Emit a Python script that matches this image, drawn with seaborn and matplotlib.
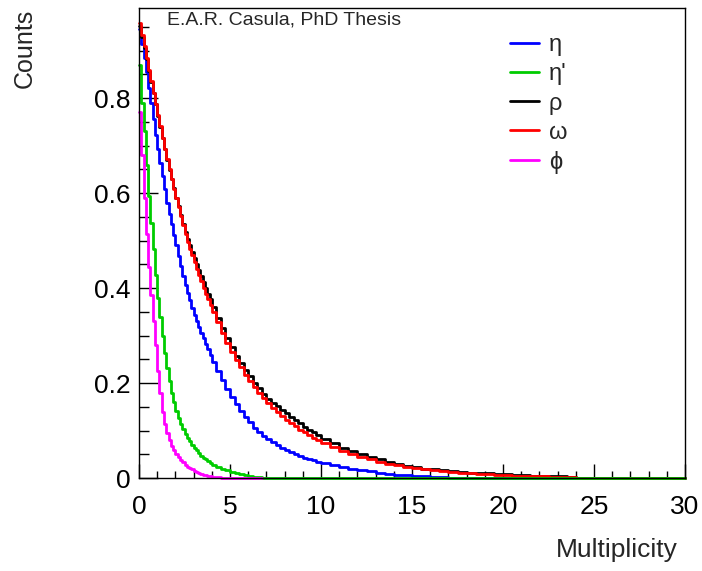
import numpy as np
import pandas as pd
import matplotlib
matplotlib.use("Agg")
import matplotlib.pyplot as plt
from matplotlib.ticker import MultipleLocator
from matplotlib.lines import Line2D
import seaborn as sns

# ---- data (bin contents) ----
# bin edges: 0.125 wide up to 4, 0.25 wide up to 10, 0.5 wide up to 30
edges = np.concatenate([np.arange(0, 4, 0.125),
                        np.arange(4, 10, 0.25),
                        np.arange(10, 30.001, 0.5)])

labels = ["η", "η'", "ρ", "ω", "ϕ"]
colors = {"η": "#0000ff", "η'": "#00cc00", "ρ": "#000000", "ω": "#ff0000", "ϕ": "#ff00ff"}

rho_a = [0.953, 0.929, 0.906, 0.882, 0.858, 0.834, 0.811, 0.787, 0.763, 0.740, 0.716, 0.693,
         0.670, 0.649, 0.629, 0.610, 0.590, 0.572, 0.554, 0.535, 0.518, 0.504, 0.490, 0.477,
         0.464, 0.451, 0.438, 0.425, 0.412, 0.400, 0.388, 0.376]
rho_b = [0.36, 0.337, 0.315, 0.295, 0.276, 0.258, 0.242, 0.228, 0.214, 0.201, 0.189, 0.177,
         0.167, 0.159, 0.151, 0.144, 0.136, 0.129, 0.122, 0.115, 0.108, 0.102, 0.096, 0.090]
rho_c = [0.082, 0.073, 0.064, 0.057, 0.050, 0.045, 0.039, 0.034, 0.030, 0.026, 0.023, 0.020,
         0.018, 0.016, 0.014, 0.013, 0.0115, 0.0105, 0.0095, 0.0085, 0.0075, 0.0065, 0.0058, 0.0052,
         0.0046, 0.004, 0.0033, 0.0025, 0, 0, 0, 0, 0, 0, 0, 0, 0, 0, 0, 0]

omega_a = [0.958, 0.933, 0.909, 0.884, 0.860, 0.836, 0.812, 0.788, 0.764, 0.741, 0.717, 0.694,
           0.671, 0.650, 0.629, 0.609, 0.589, 0.570, 0.551, 0.532, 0.514, 0.498, 0.483, 0.469,
           0.455, 0.441, 0.427, 0.414, 0.401, 0.388, 0.376, 0.364]
omega_b = [0.35, 0.328, 0.306, 0.285, 0.266, 0.249, 0.233, 0.218, 0.204, 0.191, 0.179, 0.168,
           0.157, 0.148, 0.139, 0.131, 0.123, 0.116, 0.109, 0.102, 0.096, 0.090, 0.084, 0.079]
omega_c = [0.074, 0.065, 0.057, 0.050, 0.044, 0.039, 0.034, 0.030, 0.027, 0.024, 0.021, 0.018,
           0.016, 0.014, 0.012, 0.011, 0.0095, 0.0085, 0.0075, 0.0065, 0.0058, 0.005, 0.0044, 0.0038,
           0.0032, 0.0026, 0.002, 0.0012, 0, 0, 0, 0, 0, 0, 0, 0, 0, 0, 0, 0]

eta_a = [0.945, 0.915, 0.885, 0.855, 0.822, 0.789, 0.756, 0.723, 0.692, 0.664, 0.636, 0.608,
         0.580, 0.557, 0.534, 0.511, 0.490, 0.468, 0.447, 0.426, 0.406, 0.390, 0.374, 0.358,
         0.344, 0.331, 0.319, 0.306, 0.294, 0.282, 0.271, 0.260]
eta_b = [0.245, 0.225, 0.206, 0.188, 0.171, 0.156, 0.142, 0.129, 0.117, 0.106, 0.097, 0.089,
         0.082, 0.075, 0.069, 0.063, 0.059, 0.055, 0.051, 0.047, 0.043, 0.040, 0.037, 0.034]
eta_c = [0.031, 0.027, 0.023, 0.020, 0.017, 0.014, 0.011, 0.009, 0.007, 0.0055, 0.0045, 0.0035,
         0.0025, 0.0018, 0, 0, 0, 0, 0, 0, 0, 0, 0, 0, 0, 0, 0, 0, 0, 0, 0, 0, 0, 0, 0, 0,
         0, 0, 0, 0]

etap_a = [0.870, 0.790, 0.730, 0.660, 0.595, 0.538, 0.482, 0.428, 0.380, 0.340, 0.300, 0.264,
          0.232, 0.204, 0.180, 0.160, 0.142, 0.127, 0.114, 0.103, 0.093, 0.085, 0.077, 0.070,
          0.063, 0.058, 0.052, 0.047, 0.043, 0.039, 0.035, 0.032]
etap_b = [0.028, 0.024, 0.020, 0.016, 0.013, 0.010, 0.0075, 0.0055, 0.004, 0.0028, 0.0018, 0.001,
          0, 0, 0, 0, 0, 0, 0, 0, 0, 0, 0, 0]
etap_c = [0] * 40

phi_a = [0.770, 0.680, 0.590, 0.515, 0.445, 0.385, 0.330, 0.280, 0.225, 0.180, 0.140, 0.113,
         0.095, 0.080, 0.068, 0.058, 0.050, 0.044, 0.038, 0.033, 0.028, 0.024, 0.021, 0.018,
         0.015, 0.013, 0.011, 0.009, 0.007, 0.0055, 0.0045, 0.0035]
phi_b = [0.0025, 0.0018, 0.001, 0.0005, 0, 0, 0, 0, 0, 0, 0]

series = {
    "η": eta_a + eta_b + eta_c,
    "ρ": rho_a + rho_b + rho_c,
    "ω": omega_a + omega_b + omega_c,
    "η'": etap_a + etap_b + etap_c,
    "ϕ": phi_a + phi_b,
}
draw_order = ["η", "ρ", "ω", "η'", "ϕ"]

rows = []
for name in draw_order:
    vals = series[name]
    n = len(vals)
    xs = np.append(edges[:n], edges[n])
    ys = np.append(vals, vals[-1])
    for x, y in zip(xs, ys):
        rows.append({"mult": x, "counts": y, "particle": name})
df = pd.DataFrame(rows)

# ---- plot ----
sns.set_style("white")
plt.rcParams["font.family"] = ["Liberation Sans", "DejaVu Sans"]

fig = plt.figure(figsize=(7.02, 5.71), dpi=100)
ax = fig.add_axes([139 / 702, 1 - 478 / 571, (685 - 139) / 702, (478 - 8) / 571])

sns.lineplot(data=df, x="mult", y="counts", hue="particle", hue_order=draw_order,
             palette=colors, estimator=None, sort=False, drawstyle="steps-post",
             linewidth=2.0, ax=ax, legend=False, clip_on=False)

ax.set_xlim(0, 30)
ax.set_ylim(0, 0.99)
ax.xaxis.set_minor_locator(MultipleLocator(1))
ax.yaxis.set_minor_locator(MultipleLocator(0.05))
ax.set_yticks([0, 0.2, 0.4, 0.6, 0.8])
ax.set_yticklabels(["0", "0.2", "0.4", "0.6", "0.8"])
ax.set_xticks([0, 5, 10, 15, 20, 25, 30])
ax.set_xticklabels(["0", "5", "10", "15", "20", "25", "30"])

ax.tick_params(axis="both", which="both", direction="in", colors="black", labelsize=19,
               bottom=True, left=True, top=False, right=False)
ax.tick_params(axis="y", which="major", length=13.5, width=1, pad=6)
ax.tick_params(axis="y", which="minor", length=7, width=1)
ax.tick_params(axis="x", which="major", length=10, width=1, pad=12)
ax.tick_params(axis="x", which="minor", length=5, width=1)
for sp in ax.spines.values():
    sp.set_color("black")
    sp.set_linewidth(1.0)

ax.set_xlabel("")
ax.set_ylabel("")
fig.text(678 / 702, 1 - 550 / 571, "Multiplicity", ha="right", va="center", fontsize=19)
fig.text(25 / 702, 1 - 9 / 571, "Counts", ha="center", va="top", rotation=90, fontsize=18)
ax.text(0.051, 0.9745, "E.A.R. Casula, PhD Thesis", transform=ax.transAxes,
        ha="left", va="center", fontsize=14)

handles = [Line2D([], [], color=colors[n], lw=2.0) for n in labels]
leg = ax.legend(handles, labels, loc="upper left", bbox_to_anchor=(0.662, 0.964),
                frameon=False, fontsize=17, handlelength=1.25, handletextpad=0.4,
                labelspacing=0.3, borderaxespad=0)

fig.savefig("out.png", dpi=100)
